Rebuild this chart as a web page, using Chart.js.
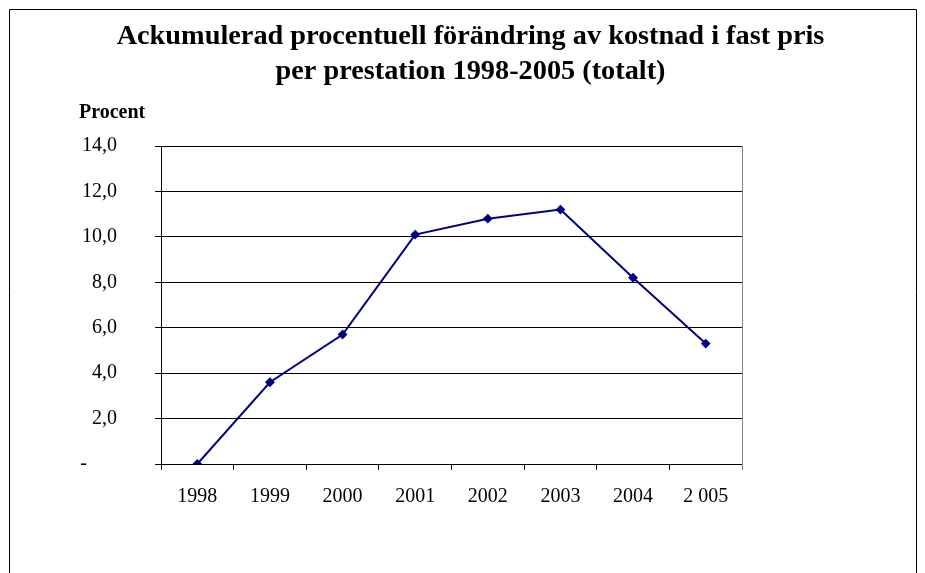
<!DOCTYPE html>
<html><head><meta charset="utf-8">
<script src="https://cdn.jsdelivr.net/npm/chart.js@4/dist/chart.umd.min.js"></script>
<style>html,body{margin:0;padding:0;background:#fff}#wrap{width:925px;height:573px}</style>
</head><body><div id="wrap"><canvas id="c" width="925" height="573"></canvas></div>
<script>
const titleLines = ["Ackumulerad procentuell förändring av kostnad i fast pris", "per prestation 1998-2005 (totalt)"];
const yAxisLabel = "Procent";
const categories = ["1998", "1999", "2000", "2001", "2002", "2003", "2004", "2 005"];
const values = [0, 3.6, 5.7, 10.1, 10.8, 11.2, 8.2, 5.3];
const yTicks = [0, 2, 4, 6, 8, 10, 12, 14];

const FONT = "'Liberation Serif', 'Times New Roman', serif";

const decor = {
  id: 'decor',
  beforeDraw(chart) {
    const ctx = chart.ctx;
    ctx.save();
    ctx.fillStyle = '#fff';
    ctx.fillRect(0, 0, chart.width, chart.height);
    ctx.strokeStyle = '#000';
    ctx.lineWidth = 1;
    ctx.beginPath();
    ctx.moveTo(9.5, 573); ctx.lineTo(9.5, 9.5); ctx.lineTo(916.5, 9.5); ctx.lineTo(916.5, 573);
    ctx.stroke();
    ctx.fillStyle = '#000';
    ctx.textAlign = 'center';
    ctx.textBaseline = 'alphabetic';
    ctx.font = 'bold 28.3px ' + FONT;
    ctx.fillText(titleLines[0], 470.5, 44);
    ctx.fillText(titleLines[1], 470.5, 79);
    ctx.textAlign = 'left';
    ctx.font = 'bold 20px ' + FONT;
    ctx.fillText(yAxisLabel, 79, 118);
    ctx.restore();
  },
  beforeDatasetsDraw(chart) {
    const {ctx, chartArea: a} = chart;
    ctx.save();
    ctx.strokeStyle = '#808080';
    ctx.lineWidth = 1;
    ctx.beginPath();
    ctx.moveTo(Math.round(a.right) + 0.5, a.top);
    ctx.lineTo(Math.round(a.right) + 0.5, a.bottom + 6);
    ctx.stroke();
    ctx.restore();
  }
};

new Chart(document.getElementById('c'), {
  type: 'line',
  data: {
    labels: categories,
    datasets: [{
      data: values,
      borderColor: '#000080',
      backgroundColor: '#000080',
      borderWidth: 2,
      pointStyle: 'rectRot',
      pointRadius: 3.5,
      pointHoverRadius: 3.5,
      tension: 0,
      fill: false
    }]
  },
  options: {
    responsive: false,
    animation: false,
    devicePixelRatio: 1,
    layout: { padding: { left: 0, top: 146, right: 183, bottom: 0 } },
    plugins: { legend: { display: false }, title: { display: false }, tooltip: { enabled: false } },
    scales: {
      x: {
        offset: true,
        afterFit(s) { s.height = 109; },
        grid: { offset: true, drawOnChartArea: false, drawTicks: true, tickLength: 6, color: '#000' },
        border: { color: '#000', width: 1 },
        ticks: { color: '#000', font: { family: FONT, size: 20 }, padding: 15, maxRotation: 0 }
      },
      y: {
        min: 0, max: 14,
        afterFit(s) { s.width = 161; },
        afterBuildTicks(s) { s.ticks = yTicks.map(v => ({ value: v })); },
        grid: { color: '#000', drawTicks: true, tickLength: 6 },
        border: { color: '#000', width: 1 },
        ticks: {
          color: '#000', font: { family: FONT, size: 20 }, padding: 38,
          callback: v => v === 0 ? '-      ' : v.toFixed(1).replace('.', ',')
        }
      }
    }
  },
  plugins: [decor]
});
</script></body></html>
